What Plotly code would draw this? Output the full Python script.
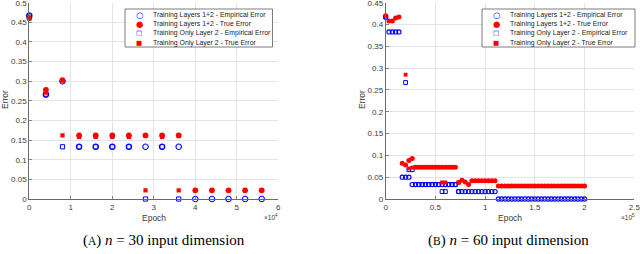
import plotly.graph_objects as go

# ---------------- data ----------------
series_names = [
    "Training Layers 1+2 - Empirical Error",
    "Training Layers 1+2 - True Error",
    "Training Only Layer 2 - Empirical Error",
    "Training Only Layer 2 - True Error",
]

# (A) n = 30
left_epochs = [0, 4000, 8000, 12000, 16000, 20000, 24000, 28000, 32000, 36000,
               40000, 44000, 48000, 52000, 56000]
left_l12_emp = [0.467, 0.266, 0.300, 0.133, 0.133, 0.133, 0.133, 0.133, 0.133, 0.133,
                0.0, 0.0, 0.0, 0.0, 0.0]
left_l12_true = [0.461, 0.278, 0.303, 0.162, 0.162, 0.162, 0.162, 0.162, 0.162, 0.162,
                 0.022, 0.022, 0.022, 0.022, 0.022]
left_l2_emp = [0.466, 0.267, 0.133, 0.133, 0.133, 0.133, 0.133, 0.0, 0.133, 0.0]
left_l2_true = [0.460, 0.271, 0.162, 0.158, 0.158, 0.158, 0.158, 0.022, 0.158, 0.022]

# (B) n = 60
right_epochs = [0, 3333, 6667, 10000, 13333, 16667, 20000, 23333, 26667, 30000,
                33333, 36667, 40000, 43333, 46667, 50000, 53333, 56667, 60000, 63333,
                66667, 70000, 73333, 76667, 80000, 83333, 86667, 90000, 93333, 96667,
                100000, 103333, 106667, 110000, 113333, 116667, 120000, 123333, 126667, 130000,
                133333, 136667, 140000, 143333, 146667, 150000, 153333, 156667, 160000, 163333,
                166667, 170000, 173333, 176667, 180000, 183333, 186667, 190000, 193333, 196667,
                200000]
right_l12_emp = ([0.417] + [0.383] * 4 + [0.050] * 3 + [0.033] * 14 + [0.017] * 12
                 + [0.0] * 27)
right_l12_true = ([0.420, 0.408, 0.408, 0.415, 0.417, 0.082, 0.078, 0.088, 0.093]
                  + [0.073] * 13
                  + [0.038, 0.043, 0.039, 0.033, 0.042, 0.042, 0.042, 0.042, 0.042,
                     0.042, 0.042, 0.042]
                  + [0.030] * 27)
right_l2_emp = ([0.417, None, None, None, None, None, 0.267, 0.067, 0.067]
                + [0.033] * 8 + [0.017, 0.017] + [0.033] * 3 + [0.017])
right_l2_true = ([0.420, None, None, None, None, None, 0.285, 0.070, 0.072]
                 + [0.073] * 8 + [0.038, 0.038] + [0.073] * 3 + [0.038])

left_xticks = [0, 10000, 20000, 30000, 40000, 50000, 60000]
left_xticklabels = ["0", "1", "2", "3", "4", "5", "6"]
right_xticks = [0, 50000, 100000, 150000, 200000, 250000]
right_xticklabels = ["0", "0.5", "1", "1.5", "2", "2.5"]
left_yticks = [0, 0.05, 0.1, 0.15, 0.2, 0.25, 0.3, 0.35, 0.4, 0.45, 0.5]
left_yticklabels = ["0", "0.05", "0.1", "0.15", "0.2", "0.25", "0.3", "0.35", "0.4", "0.45", "0.5"]
right_yticks = left_yticks[:-1]
right_yticklabels = left_yticklabels[:-1]

# ---------------- style ----------------
W, H = 640, 254
BLUE = "rgb(0,0,255)"
RED = "rgb(255,0,0)"
AXC = "#6a6a6a"
GRIDC = "#e4e4e4"
TICKC = "#3a3a3a"
FONT = "Liberation Sans"

def px(x):
    return x / W

def py(y):
    return 1 - y / H

fig = go.Figure()

def add_panel(xs, l12e, l12t, l2e, l2t, xa, ya, csize, fsize, ssize):
    fig.add_trace(go.Scatter(x=xs, y=l12e, mode="markers", xaxis=xa, yaxis=ya,
                             marker=dict(symbol="circle-open", size=csize, color=BLUE,
                                         line=dict(width=1.1, color=BLUE)),
                             cliponaxis=False, showlegend=False, name=series_names[0]))
    fig.add_trace(go.Scatter(x=xs, y=l12t, mode="markers", xaxis=xa, yaxis=ya,
                             marker=dict(symbol="circle", size=fsize, color=RED,
                                         line=dict(width=0)),
                             cliponaxis=False, showlegend=False, name=series_names[1]))
    fig.add_trace(go.Scatter(x=xs[:len(l2e)], y=l2e, mode="markers", xaxis=xa, yaxis=ya,
                             marker=dict(symbol="square-open", size=ssize, color=BLUE,
                                         line=dict(width=1, color=BLUE)),
                             cliponaxis=False, showlegend=False, name=series_names[2]))
    fig.add_trace(go.Scatter(x=xs[:len(l2t)], y=l2t, mode="markers", xaxis=xa, yaxis=ya,
                             marker=dict(symbol="square", size=ssize, color=RED,
                                         line=dict(width=0)),
                             cliponaxis=False, showlegend=False, name=series_names[3]))

add_panel(left_epochs, left_l12_emp, left_l12_true, left_l2_emp, left_l2_true,
          "x", "y", 5.5, 5.8, 4.2)
add_panel(right_epochs, right_l12_emp, right_l12_true, right_l2_emp, right_l2_true,
          "x2", "y2", 4.2, 5.0, 3.8)

ydom = [py(199), py(2.7)]
common_x = dict(ticks="inside", ticklen=3, tickwidth=0.8, tickcolor=AXC,
                showline=True, linecolor=AXC, linewidth=1, showgrid=True,
                gridcolor=GRIDC, gridwidth=1, zeroline=False, automargin=False,
                ticklabeloverflow="allow",
                tickfont=dict(family=FONT, size=8, color=TICKC), fixedrange=True)
common_y = dict(common_x)

fig.update_layout(
    width=W, height=H, margin=dict(l=0, r=0, t=0, b=0, pad=0, autoexpand=False),
    paper_bgcolor="white", plot_bgcolor="white",
    font=dict(family=FONT, color=TICKC),
    showlegend=False,
    xaxis=dict(common_x, domain=[px(29.3), px(278.3)], range=[0, 60000],
               tickvals=left_xticks, ticktext=left_xticklabels, anchor="y"),
    yaxis=dict(common_y, domain=ydom, range=[0, 0.5],
               tickvals=left_yticks, ticktext=left_yticklabels, anchor="x"),
    xaxis2=dict(common_x, domain=[px(385.7), px(634.3)], range=[0, 250000],
                tickvals=right_xticks, ticktext=right_xticklabels, anchor="y2"),
    yaxis2=dict(common_y, domain=ydom, range=[0, 0.45],
                tickvals=right_yticks, ticktext=right_yticklabels, anchor="x2"),
)

ann = []
shapes = []

def note(x, y, text, size, color=TICKC, family=FONT, xanchor="center",
         yanchor="middle", angle=0):
    ann.append(dict(x=px(x), y=py(y), xref="paper", yref="paper", text=text,
                    showarrow=False, xanchor=xanchor, yanchor=yanchor, textangle=angle,
                    borderpad=0, font=dict(family=family, size=size, color=color)))

# axis labels
for xc in [5, 362]:
    note(xc, 100, "Error", 8.5, angle=-90)
for xc in [153.8, 510]:
    note(xc, 218, "Epoch", 8.5)
note(278.5, 217, "×10<sup>4</sup>", 6.5, xanchor="right")
note(636, 217, "×10<sup>5</sup>", 6.5, xanchor="right")

# captions
for xc, letter, n in [(164, "A", "30"), (508, "B", "60")]:
    note(xc, 240, "(<span style='font-size:11.5px'>%s</span>) <i>n</i> = %s input dimension"
         % (letter, n), 15, color="black", family="Liberation Serif")

# legends (drawn as a box with text entries)
legend_glyphs = [("○", BLUE, 8.5), ("●", RED, 8.5), ("□", BLUE, 6.5), ("■", RED, 6.5)]
row_y = [14.7, 24.0, 33.3, 42.7]
for (bx0, bx1, sym_x, txt_x) in [(125, 272.5, 139, 152), (482, 635, 496, 509)]:
    shapes.append(dict(type="rect", xref="paper", yref="paper",
                       x0=px(bx0), x1=px(bx1), y0=py(47), y1=py(9),
                       line=dict(color="#5a5a5a", width=0.8), fillcolor="white",
                       layer="above"))
    for (g, c, s), name, ry in zip(legend_glyphs, series_names, row_y):
        note(sym_x, ry, g, s, color=c, family="DejaVu Sans")
        note(txt_x, ry, name, 6.9, color="#222222", xanchor="left")

fig.update_layout(annotations=ann, shapes=shapes)
fig.write_html("out.html", post_script="document.body.style.margin='0px';",
               config={"displayModeBar": False, "staticPlot": True})
